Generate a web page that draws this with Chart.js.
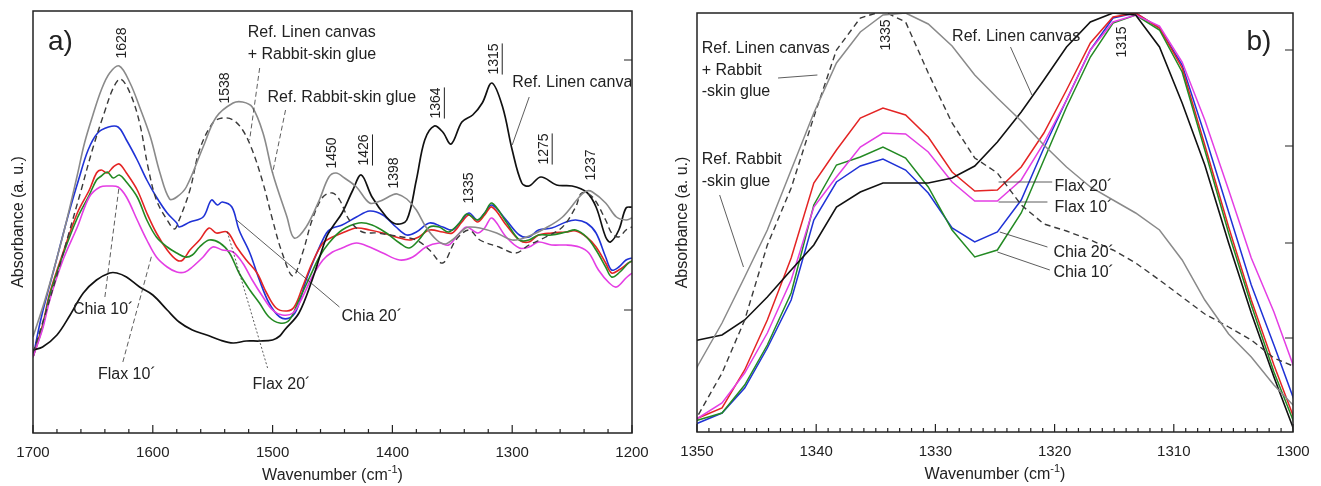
<!DOCTYPE html>
<html>
<head>
<meta charset="utf-8">
<script src="https://cdn.jsdelivr.net/npm/chart.js@4.4.1/dist/chart.umd.min.js"></script>
<style>
  body { margin: 0; background: #fff; }
  #wrap { position: relative; width: 1321px; height: 486px; }
  canvas { position: absolute; top: 0; }
  #chartA { left: 0; }
  #chartB { left: 655px; }
</style>
</head>
<body>
<div id="wrap">
  <canvas id="chartA" width="655" height="486"></canvas>
  <canvas id="chartB" width="666" height="486"></canvas>
</div>
<script>
// ---- panel a: [wavenumber, absorbance a.u.] ----
var glueA = [[1700,96],[1690,133],[1680,175],[1672,212],[1663,258],[1657,290],[1650,318],[1643,343],[1636,360],[1628,367],[1619,350],[1611,326],[1602,296],[1594,260],[1586,234],[1580,236],[1572,246],[1558,286],[1547,316],[1533,330],[1525,331],[1517,326],[1508,300],[1500,260],[1488,216],[1482,195],[1472,206],[1461,233],[1453,256],[1447,260],[1440,255],[1430,246],[1419,230],[1410,232],[1400,238],[1396,239],[1388,234],[1380,223],[1372,206],[1363,193],[1356,189],[1350,193],[1340,204],[1336,206],[1327,205],[1313,200],[1300,193],[1288,196],[1272,205],[1258,216],[1244,236],[1238,242],[1233,241],[1222,230],[1213,216],[1205,213],[1200,215]];
var canvasGlueA = [[1700,80],[1690,118],[1680,158],[1670,200],[1660,242],[1650,285],[1640,322],[1633,345],[1627,354],[1619,340],[1611,310],[1604,266],[1597,233],[1588,213],[1582,204],[1578,213],[1569,243],[1561,283],[1550,310],[1542,315],[1533,313],[1525,303],[1517,283],[1508,250],[1500,213],[1492,180],[1483,157],[1475,180],[1467,213],[1458,236],[1450,240],[1444,233],[1436,213],[1425,201],[1413,200],[1402,198],[1392,196],[1380,193],[1369,183],[1358,170],[1347,193],[1336,203],[1327,193],[1311,186],[1297,180],[1286,188],[1272,196],[1258,206],[1247,226],[1242,240],[1233,236],[1222,213],[1217,200],[1211,196],[1205,203],[1200,206]];
var linenA = [[1700,83],[1692,86],[1680,98],[1669,118],[1658,140],[1647,153],[1636,160],[1630,160],[1622,156],[1611,146],[1600,138],[1588,123],[1578,111],[1567,103],[1555,98],[1544,93],[1533,90],[1522,92],[1511,92],[1500,93],[1494,97],[1490,103],[1478,120],[1467,153],[1455,196],[1450,206],[1442,220],[1433,243],[1426,258],[1417,236],[1405,216],[1397,209],[1388,213],[1380,253],[1373,293],[1365,307],[1358,301],[1351,289],[1342,311],[1333,318],[1325,330],[1317,350],[1308,326],[1300,283],[1292,250],[1286,247],[1276,256],[1263,248],[1250,247],[1238,241],[1230,226],[1222,196],[1218,191],[1211,203],[1205,225],[1200,226]];
var chia20A = [[1700,76],[1693,116],[1682,166],[1671,216],[1662,253],[1654,283],[1646,300],[1637,306],[1629,306],[1622,293],[1613,273],[1605,253],[1597,236],[1588,220],[1580,210],[1578,206],[1569,211],[1558,216],[1551,233],[1546,228],[1542,231],[1534,226],[1528,203],[1519,180],[1511,153],[1503,130],[1494,116],[1486,115],[1480,123],[1472,153],[1463,180],[1455,200],[1450,205],[1442,208],[1430,216],[1419,222],[1408,218],[1397,206],[1388,198],[1380,201],[1369,210],[1358,206],[1350,203],[1342,213],[1336,220],[1329,213],[1323,220],[1317,228],[1305,213],[1294,198],[1286,196],[1278,203],[1267,205],[1255,211],[1247,213],[1238,210],[1230,200],[1222,176],[1217,163],[1211,166],[1205,173],[1200,175]];
var flax20A = [[1700,76],[1692,108],[1686,140],[1675,180],[1663,220],[1653,243],[1647,260],[1643,263],[1638,260],[1633,266],[1628,269],[1622,260],[1613,243],[1605,220],[1597,200],[1588,183],[1580,173],[1575,173],[1569,183],[1561,193],[1553,205],[1547,200],[1538,201],[1530,186],[1522,173],[1513,160],[1505,140],[1497,125],[1488,122],[1482,126],[1475,146],[1467,170],[1458,190],[1450,196],[1442,200],[1430,205],[1419,203],[1408,200],[1397,196],[1386,193],[1378,196],[1369,203],[1358,201],[1350,200],[1342,211],[1336,218],[1329,211],[1323,218],[1317,226],[1305,208],[1294,193],[1286,191],[1278,198],[1267,200],[1255,201],[1247,202],[1238,196],[1230,186],[1222,170],[1217,160],[1211,163],[1203,170],[1200,172]];
var chia10A = [[1700,76],[1692,106],[1686,138],[1675,178],[1663,215],[1653,238],[1647,253],[1643,257],[1638,261],[1633,255],[1628,258],[1622,251],[1613,236],[1605,213],[1597,196],[1588,186],[1580,180],[1573,176],[1567,178],[1561,186],[1553,193],[1544,190],[1536,180],[1528,160],[1519,143],[1511,130],[1503,116],[1494,110],[1486,113],[1478,133],[1469,156],[1461,176],[1453,190],[1442,203],[1428,210],[1417,208],[1405,200],[1394,190],[1386,185],[1378,193],[1369,206],[1361,206],[1353,201],[1344,210],[1338,219],[1329,213],[1323,220],[1317,230],[1305,211],[1294,193],[1286,193],[1278,198],[1267,198],[1255,201],[1247,203],[1238,196],[1230,183],[1222,166],[1217,156],[1211,160],[1203,170],[1200,172]];
var flax10A = [[1700,76],[1692,104],[1686,133],[1675,173],[1663,206],[1653,236],[1644,246],[1636,247],[1629,246],[1622,236],[1613,213],[1605,193],[1597,176],[1588,166],[1580,161],[1573,161],[1567,166],[1558,176],[1550,186],[1542,183],[1533,181],[1525,170],[1517,153],[1508,136],[1500,123],[1492,118],[1483,120],[1475,136],[1467,156],[1458,173],[1450,181],[1442,185],[1430,190],[1419,186],[1408,180],[1394,173],[1383,176],[1372,186],[1361,190],[1353,188],[1344,200],[1338,206],[1329,200],[1323,205],[1317,215],[1305,196],[1294,185],[1286,186],[1278,191],[1267,188],[1255,188],[1244,186],[1236,180],[1228,163],[1219,150],[1213,146],[1205,155],[1200,160]];

// ---- panel b: shared wavenumber grid ----
var wnB = [1351.8,1349.9,1347.9,1346.0,1344.1,1342.1,1340.2,1338.3,1336.3,1334.4,1332.5,1330.6,1328.6,1326.7,1324.8,1322.8,1320.9,1319.0,1317.0,1315.1,1313.2,1311.2,1309.3,1307.4,1305.4,1303.5,1301.6,1299.6];
var linenB = [87,92,97,112,135,162,187,225,240,249,249,249,254,266,290,320,352,385,410,419,417,385,329,267,189,119,55,-8];
var glueB = [22,67,109,155,202,262,319,369,400,417,419,408,386,357,334,311,287,265,245,232,219,202,172,132,98,75,47,22];
var canvasGlueB = [-38,17,59,112,187,244,315,382,414,421,410,359,309,274,259,227,208,201,192,182,169,152,135,118,105,92,74,64];
var flax20B = [4,14,24,62,112,174,249,282,314,324,317,295,260,241,242,265,299,342,389,415,419,404,364,287,205,132,67,4];
var flax10B = [7,14,29,59,99,152,225,255,285,299,298,280,250,231,231,252,289,332,382,410,417,406,370,312,242,174,120,54];
var chia20B = [2,9,19,44,84,132,212,250,266,273,262,239,204,190,200,232,284,332,382,414,419,404,367,297,220,147,87,22];
var chia10B = [4,12,19,47,87,139,227,267,275,285,274,245,202,175,182,219,272,325,375,409,417,402,360,282,199,127,60,0];

var FONT = "'Liberation Sans', Arial, sans-serif";
var INK = '#222';

function pairs(arr) { return arr.map(function (p) { return { x: p[0], y: p[1] }; }); }
function onGrid(vals) { return wnB.map(function (w, i) { return { x: w, y: vals[i] }; }); }

function line(data, color, width, dash) {
  return { data: data, borderColor: color, borderWidth: width, borderDash: dash || [], pointRadius: 0, fill: false };
}

// frame, inward ticks, x title, labels and leader lines
var decor = {
  id: 'decor',
  afterDraw: function (chart, args, o) {
    var ctx = chart.ctx, a = chart.chartArea, x = chart.scales.x, y = chart.scales.y;
    function P(w, v) { return [x.getPixelForValue(w), y.getPixelForValue(v)]; }
    ctx.save();
    ctx.strokeStyle = INK;
    ctx.lineWidth = 1.5;
    ctx.strokeRect(a.left, a.top, a.right - a.left, a.bottom - a.top);
    ctx.lineWidth = 1.2;
    ctx.beginPath();
    var n = Math.round((x.max - x.min) / o.minor);
    for (var i = 0; i <= n; i++) {
      var v = x.min + i * o.minor;
      var px = x.getPixelForValue(v);
      var len = Math.abs(v % o.major) < 1e-6 ? 8 : 4;
      ctx.moveTo(px, a.bottom); ctx.lineTo(px, a.bottom - len);
    }
    o.rightTicks.forEach(function (v) {
      var py = y.getPixelForValue(v);
      ctx.moveTo(a.right, py); ctx.lineTo(a.right - 8, py);
    });
    ctx.stroke();

    // x axis title with superscript
    ctx.fillStyle = INK;
    ctx.textBaseline = 'alphabetic';
    var t1 = 'Wavenumber (cm', t3 = ')';
    ctx.font = '11px ' + FONT; var w2 = ctx.measureText('-1').width;
    ctx.font = '16px ' + FONT;
    var w1 = ctx.measureText(t1).width, w3 = ctx.measureText(t3).width;
    var cx = (a.left + a.right) / 2 - (w1 + w2 + w3) / 2, ty = a.bottom + 47;
    ctx.textAlign = 'left';
    ctx.fillText(t1, cx, ty);
    ctx.font = '11px ' + FONT; ctx.fillText('-1', cx + w1, ty - 7);
    ctx.font = '16px ' + FONT; ctx.fillText(t3, cx + w1 + w2, ty);

    // everything below stays inside the frame
    ctx.beginPath();
    ctx.rect(a.left, a.top, a.right - a.left - 1, a.bottom - a.top);
    ctx.clip();

    // leader lines
    ctx.strokeStyle = '#333';
    ctx.lineWidth = 0.8;
    o.leaders.forEach(function (l) {
      var p = P(l[0][0], l[0][1]), q = P(l[1][0], l[1][1]);
      ctx.setLineDash(l[2] === 'dash' ? [5, 3] : l[2] === 'dot' ? [2, 2] : []);
      ctx.beginPath(); ctx.moveTo(p[0], p[1]); ctx.lineTo(q[0], q[1]); ctx.stroke();
    });
    ctx.setLineDash([]);

    // panel letter
    var pl = P(o.panel[1], o.panel[2]);
    ctx.font = '28px ' + FONT;
    ctx.fillText(o.panel[0], pl[0], pl[1]);

    // text labels
    ctx.font = '16px ' + FONT;
    ctx.textBaseline = 'middle';
    o.labels.forEach(function (l) {
      var p = P(l[1], l[2]);
      ctx.fillText(l[0], p[0], p[1]);
    });

    // rotated peak labels
    ctx.font = '14px ' + FONT;
    ctx.textAlign = 'center';
    ctx.strokeStyle = INK;
    o.peaks.forEach(function (l) {
      var p = P(l[1], l[2]);
      ctx.save();
      ctx.translate(p[0], p[1]);
      ctx.rotate(-Math.PI / 2);
      ctx.fillText(l[0], 0, 0);
      if (l[3]) {
        var w = ctx.measureText(l[0]).width;
        ctx.lineWidth = 1;
        ctx.beginPath(); ctx.moveTo(-w / 2, 8); ctx.lineTo(w / 2, 8); ctx.stroke();
      }
      ctx.restore();
    });
    ctx.restore();
  }
};

function options(xMin, xMax, step, yMax, yWidth, xHeight, pad, titlePad, tension, deco) {
  return {
    responsive: false,
    animation: false,
    layout: { padding: pad },
    elements: { line: { tension: tension } },
    plugins: { legend: { display: false }, tooltip: { enabled: false }, decor: deco },
    scales: {
      x: {
        type: 'linear', reverse: true, min: xMin, max: xMax,
        grid: { display: false }, border: { display: false },
        ticks: { stepSize: step, color: INK, font: { family: FONT, size: 15 }, callback: function (v) { return String(v); } },
        afterFit: function (s) { s.height = xHeight; }
      },
      y: {
        min: 0, max: yMax,
        grid: { display: false }, border: { display: false },
        ticks: { display: false },
        title: { display: true, text: 'Absorbance (a. u.)', color: INK, font: { family: FONT, size: 16 }, padding: { top: titlePad, bottom: 0 } },
        afterFit: function (s) { s.width = yWidth; }
      }
    }
  };
}

new Chart(document.getElementById('chartA'), {
  type: 'line',
  plugins: [decor],
  data: {
    datasets: [
      line(pairs(glueA), '#8a8a8a', 1.6),
      line(pairs(canvasGlueA), '#3a3a3a', 1.4, [6, 4]),
      line(pairs(linenA), '#111', 1.7),
      line(pairs(flax10A), '#e43ee4', 1.6),
      line(pairs(chia10A), '#238a23', 1.6),
      line(pairs(flax20A), '#e42424', 1.6),
      line(pairs(chia20A), '#1f32d6', 1.6)
    ]
  },
  options: options(1200, 1700, 100, 422, 33, 53, { top: 11, right: 23 }, 9, 0.35, {
    minor: 20, major: 100, rightTicks: [123, 373],
    panel: ['a)', 1687.5, 383],
    labels: [
      ['Ref. Linen canvas', 1520.8, 400], ['+ Rabbit-skin glue', 1520.8, 378], ['Ref. Rabbit-skin glue', 1504.2, 335],
      ['Ref. Linen canvas', 1300, 350], ['Chia 10\u00b4', 1666.7, 123], ['Flax 10\u00b4', 1645.8, 58],
      ['Flax 20\u00b4', 1516.7, 48], ['Chia 20\u00b4', 1442.5, 116]
    ],
    peaks: [
      ['1628', 1625.8, 390, false], ['1538', 1540, 345, false], ['1450', 1450, 280, false], ['1426', 1423.3, 283, true],
      ['1398', 1398.3, 260, false], ['1364', 1363.3, 330, true], ['1335', 1335.8, 245, false], ['1315', 1315, 374, true],
      ['1275', 1273.3, 284, true], ['1237', 1234.2, 268, false]
    ],
    leaders: [
      [[1510.8, 365], [1519.2, 293], 'dash'], [[1489.2, 323], [1500, 260], 'dash'], [[1285.8, 336], [1300, 288], 'solid'],
      [[1640, 136], [1628.3, 245], 'dash'], [[1625, 71], [1600.8, 178], 'dash'], [[1504.2, 65], [1538.3, 203], 'dot'],
      [[1444.2, 126], [1530, 213], 'solid']
    ]
  })
});

new Chart(document.getElementById('chartB'), {
  type: 'line',
  plugins: [decor],
  data: {
    datasets: [
      line(onGrid(glueB), '#8a8a8a', 1.5),
      line(onGrid(canvasGlueB), '#3a3a3a', 1.4, [6, 4]),
      line(onGrid(linenB), '#111', 1.6),
      line(onGrid(flax10B), '#e43ee4', 1.5),
      line(onGrid(chia10B), '#238a23', 1.5),
      line(onGrid(flax20B), '#e42424', 1.5),
      line(onGrid(chia20B), '#1f32d6', 1.5)
    ]
  },
  options: options(1300, 1350, 10, 419, 42, 54, { top: 13, right: 28 }, 18, 0, {
    minor: 1, major: 10, rightTicks: [94, 189, 286, 382],
    panel: ['b)', 1303.9, 382],
    labels: [
      ['Ref. Linen canvas', 1328.6, 395], ['Ref. Linen canvas', 1349.6, 383], ['+ Rabbit', 1349.6, 361],
      ['-skin glue', 1349.6, 340], ['Ref. Rabbit', 1349.6, 272], ['-skin glue', 1349.6, 250],
      ['Flax 20\u00b4', 1320, 245], ['Flax 10\u00b4', 1320, 224], ['Chia 20\u00b4', 1320.1, 179], ['Chia 10\u00b4', 1320.1, 159]
    ],
    peaks: [['1335', 1334.1, 397, false], ['1315', 1314.3, 390, false]],
    leaders: [
      [[1323.7, 385], [1321.9, 337], 'solid'], [[1343.2, 354], [1339.9, 357], 'solid'], [[1348.1, 237], [1346.1, 165], 'solid'],
      [[1324.7, 250], [1320.2, 250], 'solid'], [[1324.7, 230], [1320.6, 230], 'solid'],
      [[1324.6, 200], [1320.6, 185], 'solid'], [[1324.8, 180], [1320.4, 162], 'solid']
    ]
  })
});
</script>
</body>
</html>
